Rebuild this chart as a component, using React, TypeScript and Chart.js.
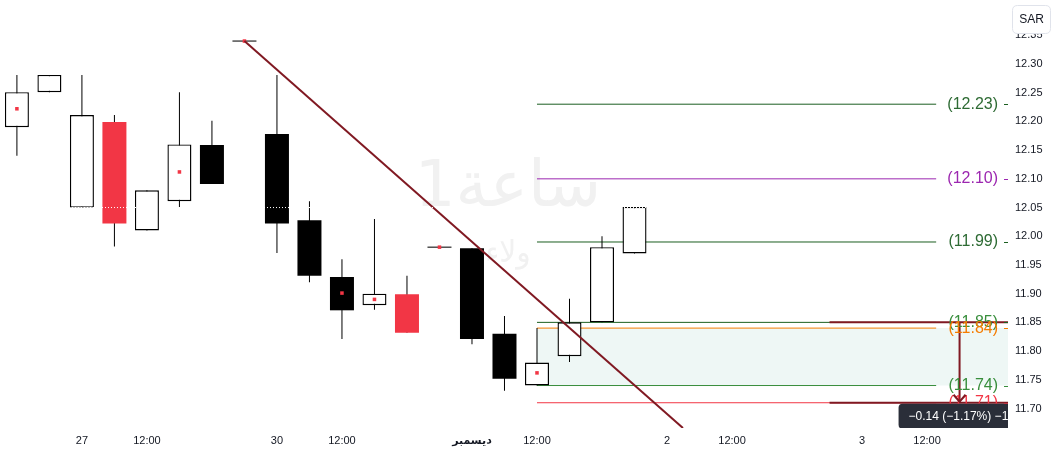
import React, { useEffect, useRef } from 'react';
import { Chart, registerables } from 'chart.js';

Chart.register(...registerables);

// ---- candle data (hourly bars) ----
const CANDLE_INDEX = [0, 1, 2, 3, 4, 5, 6, 7, 8, 9, 10, 11, 12, 13, 14, 15, 16, 17, 18, 19];
const HIGH = [12.281, 12.281, 12.281, 12.211, 12.08, 12.251, 12.201, 12.34, 12.281, 12.061, 11.96, 12.03, 11.931, 11.981, 11.979, 11.861, 11.84, 11.891, 12.0, 12.051];
const BODY_TOP = [12.251, 12.281, 12.211, 12.199, 12.08, 12.16, 12.159, 12.34, 12.178, 12.028, 11.929, 11.9, 11.899, 11.981, 11.979, 11.83, 11.78, 11.85, 11.981, 12.051];
const BODY_BOTTOM = [12.19, 12.251, 12.05, 12.022, 12.01, 12.061, 12.091, 12.34, 12.022, 11.931, 11.871, 11.88, 11.832, 11.981, 11.821, 11.752, 11.74, 11.791, 11.85, 11.97];
const LOW = [12.14, 12.251, 12.05, 11.982, 12.01, 12.051, 12.091, 12.34, 11.971, 11.92, 11.821, 11.872, 11.832, 11.981, 11.812, 11.731, 11.74, 11.781, 11.85, 11.97];
const KIND = ['hollow', 'hollow', 'hollow', 'red', 'hollow', 'hollow', 'black', 'black', 'black', 'black', 'black', 'hollow', 'red', 'black', 'black', 'black', 'hollow', 'hollow', 'hollow', 'hollow'];

const MARK_INDEX = [0, 5, 7, 10, 11, 13, 16];
const MARK_VALUE = [12.222, 12.112, 12.34, 11.901, 11.89, 11.981, 11.762];

// ---- axes ----
const X_TICKS = [2, 4, 8, 10, 14, 16, 20, 22, 26, 28];
const X_TICK_LABELS = ['27', '12:00', '30', '12:00', 'ديسمبر', '12:00', '2', '12:00', '3', '12:00'];
const MONTH_TICK = 14;
const X_MIN = -0.52;
const X_MAX = 30.49;
const Y_MIN = 11.666;
const Y_MAX = 12.4115;
const Y_TICKS = [11.7, 11.75, 11.8, 11.85, 11.9, 11.95, 12.0, 12.05, 12.1, 12.15, 12.2, 12.25, 12.3, 12.35];

// ---- drawings ----
const LEVEL_VALUES = [12.23, 12.1, 11.99, 11.85, 11.84, 11.74, 11.71];
const LEVEL_COLORS = ['#1b5e20', '#9c27b0', '#1b5e20', '#1b5e20', '#f57c00', '#388e3c', '#f23645'];
const LEVEL_LABEL_COLORS = ['#2e6b34', '#9c27b0', '#2e6b34', '#388e3c', '#f57c00', '#388e3c', '#f23645'];
const LEVEL_START = 16;
const LEVEL_END = 28.28;
const ZONE_TOP = 11.84;
const ZONE_BOTTOM = 11.74;

const TREND_X = [7, 20.49];
const TREND_Y = [12.34, 11.666];

const DOTTED_LEVEL = 12.05;

const MEASURE_FROM = 11.85;
const MEASURE_TO = 11.71;
const MEASURE_START = 25;
const MEASURE_X = 29;
const MEASURE_TEXT = '\u22120.14 (\u22121.17%) \u221214';

const WATERMARK_TITLE = 'ساعة1';
const WATERMARK_SUB = 'ولاء';
const CURRENCY = 'SAR';

const MAROON = '#801922';
const TEXT = '#131722';

function roundRect(ctx: CanvasRenderingContext2D, x: number, y: number, w: number, h: number, r: number) {
  ctx.beginPath();
  ctx.moveTo(x + r, y);
  ctx.lineTo(x + w - r, y);
  ctx.quadraticCurveTo(x + w, y, x + w, y + r);
  ctx.lineTo(x + w, y + h - r);
  ctx.quadraticCurveTo(x + w, y + h, x + w - r, y + h);
  ctx.lineTo(x + r, y + h);
  ctx.quadraticCurveTo(x, y + h, x, y + h - r);
  ctx.lineTo(x, y + r);
  ctx.quadraticCurveTo(x, y, x + r, y);
  ctx.closePath();
}

const overlay = {
  id: 'overlay',
  beforeDatasetsDraw(chart: any) {
    const { ctx, chartArea } = chart;
    ctx.save();
    ctx.fillStyle = '#f1f1f1';
    ctx.textAlign = 'center';
    ctx.textBaseline = 'alphabetic';
    const cx = (chartArea.left + chartArea.right) / 2 + 4;
    ctx.font = '64px "DejaVu Sans"';
    ctx.fillText(WATERMARK_TITLE, cx, chartArea.top + 206);
    ctx.font = '30px "DejaVu Sans"';
    ctx.fillText(WATERMARK_SUB, cx, chartArea.top + 262);
    ctx.restore();
  },
  afterDatasetsDraw(chart: any) {
    const { ctx, chartArea, scales } = chart;
    const y = scales.y;
    const x = scales.x;
    ctx.save();
    // level labels
    ctx.font = '16px "Liberation Sans", Arial, sans-serif';
    ctx.textAlign = 'right';
    ctx.textBaseline = 'middle';
    LEVEL_VALUES.forEach((v, i) => {
      const py = y.getPixelForValue(v);
      ctx.fillStyle = LEVEL_LABEL_COLORS[i];
      ctx.fillText('(' + v.toFixed(2) + ')', chartArea.right - 10, py);
      ctx.strokeStyle = LEVEL_COLORS[i];
      ctx.lineWidth = 1;
      ctx.beginPath();
      ctx.moveTo(chartArea.right - 4, Math.round(py) + 0.5);
      ctx.lineTo(chartArea.right, Math.round(py) + 0.5);
      ctx.stroke();
    });
    // arrow head of measure
    const ax = x.getPixelForValue(MEASURE_X);
    const ay = y.getPixelForValue(MEASURE_TO);
    ctx.strokeStyle = MAROON;
    ctx.lineWidth = 2;
    ctx.beginPath();
    ctx.moveTo(ax - 6, ay - 8);
    ctx.lineTo(ax, ay - 1);
    ctx.lineTo(ax + 6, ay - 8);
    ctx.stroke();
    // measure label box
    ctx.beginPath();
    ctx.rect(chartArea.left, chartArea.top, chartArea.right - chartArea.left, chartArea.bottom - chartArea.top);
    ctx.clip();
    const bw = 122;
    const bx = ax - bw / 2;
    const by = ay + 1;
    ctx.fillStyle = '#2a2e39';
    roundRect(ctx, bx, by, bw, 25, 4);
    ctx.fill();
    ctx.fillStyle = '#ffffff';
    ctx.font = '12px "Liberation Sans", Arial, sans-serif';
    ctx.textAlign = 'left';
    ctx.textBaseline = 'middle';
    ctx.fillText(MEASURE_TEXT, bx + 10, by + 12.5);
    ctx.restore();
  },
  afterDraw(chart: any) {
    const { ctx, width } = chart;
    ctx.save();
    const bx = width - 48;
    const by = 5;
    ctx.fillStyle = '#ffffff';
    roundRect(ctx, bx + 0.5, by + 0.5, 38, 28, 5);
    ctx.fill();
    ctx.strokeStyle = '#e0e3eb';
    ctx.lineWidth = 1;
    ctx.stroke();
    ctx.fillStyle = TEXT;
    ctx.font = '12px "Liberation Sans", Arial, sans-serif';
    ctx.textAlign = 'center';
    ctx.textBaseline = 'middle';
    ctx.fillText(CURRENCY, bx + 19.5, by + 14.5);
    ctx.restore();
  },
};

function bodyColor(k: string) {
  return k === 'red' ? '#f23645' : k === 'black' ? '#000000' : '#ffffff';
}

export default function App() {
  const ref = useRef<HTMLCanvasElement | null>(null);

  useEffect(() => {
    document.body.style.margin = '0';
    const canvas = ref.current;
    if (!canvas) return;

    const bodies = CANDLE_INDEX.map((i) => {
      const top = BODY_TOP[i];
      const bot = BODY_BOTTOM[i];
      if (top === bot) return { x: i, y: [bot - 0.0009, top + 0.0009] };
      return { x: i, y: [bot, top] };
    });
    const wicks = CANDLE_INDEX.map((i) => ({ x: i, y: [LOW[i], HIGH[i]] }));
    const marks = MARK_INDEX.map((i, k) => ({ x: i, y: MARK_VALUE[k] }));

    const levelSets = LEVEL_VALUES.map((v, i) => ({
      type: 'line',
      data: [{ x: LEVEL_START, y: v }, { x: LEVEL_END, y: v }],
      borderColor: LEVEL_COLORS[i],
      borderWidth: 1,
      pointRadius: 0,
      fill: false,
      order: 6,
    }));

    const chart = new Chart(canvas, {
      type: 'bar',
      data: {
        datasets: [
          {
            type: 'line',
            data: [{ x: X_MIN, y: DOTTED_LEVEL }, { x: X_MAX, y: DOTTED_LEVEL }],
            borderColor: '#ffffff',
            borderWidth: 1,
            borderDash: [1, 2],
            pointRadius: 0,
            order: 0,
          },
          {
            type: 'line',
            data: [{ x: MEASURE_START, y: MEASURE_FROM }, { x: X_MAX, y: MEASURE_FROM }],
            borderColor: MAROON,
            borderWidth: 2,
            pointRadius: 0,
            order: 1,
          },
          {
            type: 'line',
            data: [{ x: MEASURE_START, y: MEASURE_TO }, { x: X_MAX, y: MEASURE_TO }],
            borderColor: MAROON,
            borderWidth: 2,
            pointRadius: 0,
            order: 1,
          },
          {
            type: 'line',
            data: [{ x: MEASURE_X, y: MEASURE_FROM }, { x: MEASURE_X, y: MEASURE_TO }],
            borderColor: MAROON,
            borderWidth: 2,
            pointRadius: 0,
            order: 1,
          },
          {
            type: 'line',
            data: [{ x: TREND_X[0], y: TREND_Y[0] }, { x: TREND_X[1], y: TREND_Y[1] }],
            borderColor: MAROON,
            borderWidth: 2,
            pointRadius: 0,
            order: 2,
          },
          {
            type: 'line',
            data: marks,
            showLine: false,
            pointStyle: 'rect',
            pointRadius: 2.5,
            pointBorderWidth: 0,
            pointBackgroundColor: '#f23645',
            order: 3,
          },
          {
            type: 'bar',
            data: bodies,
            backgroundColor: KIND.map(bodyColor),
            borderColor: KIND.map((k) => (k === 'hollow' ? '#000000' : 'rgba(0,0,0,0)')),
            borderWidth: KIND.map((k) => (k === 'hollow' ? 1.4 : 0)),
            borderSkipped: false,
            barThickness: 24,
            grouped: false,
            inflateAmount: 0,
            order: 4,
          },
          {
            type: 'bar',
            data: wicks,
            backgroundColor: '#000000',
            borderWidth: 0,
            barThickness: 1,
            grouped: false,
            inflateAmount: 0,
            order: 5,
          },
          ...levelSets,
          {
            type: 'line',
            data: [{ x: LEVEL_START, y: ZONE_TOP }, { x: X_MAX, y: ZONE_TOP }],
            borderWidth: 0,
            borderColor: 'rgba(0,0,0,0)',
            backgroundColor: '#eef7f5',
            fill: { value: ZONE_BOTTOM },
            pointRadius: 0,
            order: 7,
          },
        ] as any,
      },
      options: {
        responsive: false,
        animation: false,
        devicePixelRatio: 1,
        layout: { padding: 0, autoPadding: false },
        plugins: {
          legend: { display: false },
          tooltip: { enabled: false },
        },
        scales: {
          x: {
            type: 'linear',
            min: X_MIN,
            max: X_MAX,
            offset: false,
            grid: { display: false, drawTicks: false, offset: false },
            border: { display: false },
            afterBuildTicks: (s: any) => {
              s.ticks = X_TICKS.map((v) => ({ value: v }));
            },
            afterFit: (s: any) => {
              s.height = 26;
              s.paddingLeft = 0;
              s.paddingRight = 0;
            },
            ticks: {
              autoSkip: false,
              maxRotation: 0,
              padding: 6,
              color: TEXT,
              font: (c: any) => ({
                family: '"Liberation Sans", "DejaVu Sans", Arial, sans-serif',
                size: 11,
                weight: c.tick && c.tick.value === MONTH_TICK ? 'bold' : 'normal',
              }),
              callback: (v: any) => {
                const k = X_TICKS.indexOf(Number(v));
                return k >= 0 ? X_TICK_LABELS[k] : '';
              },
            },
          },
          y: {
            type: 'linear',
            position: 'right',
            min: Y_MIN,
            max: Y_MAX,
            grid: { display: false, drawTicks: false },
            border: { display: false },
            afterBuildTicks: (s: any) => {
              s.ticks = Y_TICKS.map((v) => ({ value: v }));
            },
            afterFit: (s: any) => {
              s.width = 52;
              s.paddingTop = 0;
              s.paddingBottom = 0;
            },
            ticks: {
              autoSkip: false,
              padding: 7,
              color: TEXT,
              font: { family: '"Liberation Sans", Arial, sans-serif', size: 11 },
              callback: (v: any) => Number(v).toFixed(2),
            },
          },
        },
      },
      plugins: [overlay],
    } as any);

    return () => chart.destroy();
  }, []);

  return (
    <div style={{ width: 1060, height: 454, position: 'relative', background: '#ffffff' }}>
      <canvas ref={ref} width={1060} height={454} style={{ display: 'block' }} />
    </div>
  );
}
